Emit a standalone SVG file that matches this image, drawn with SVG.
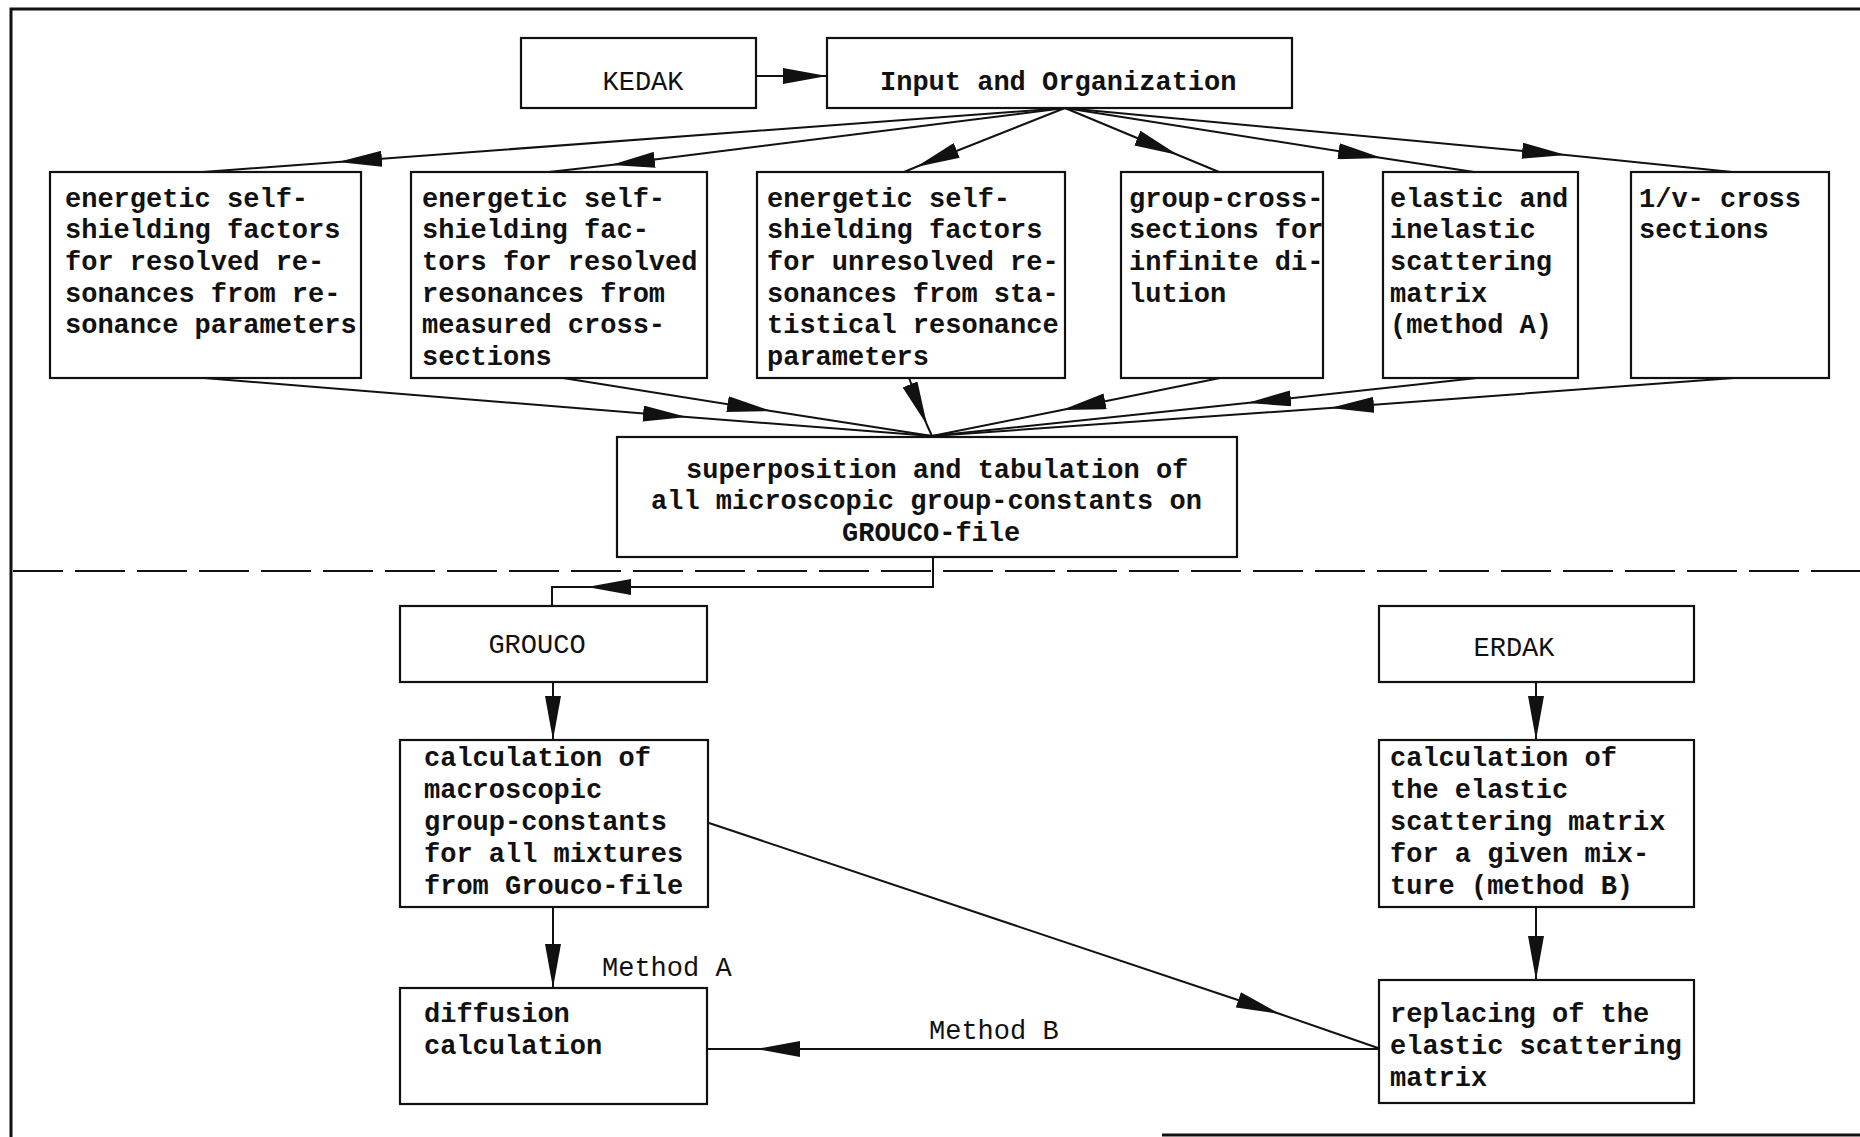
<svg xmlns="http://www.w3.org/2000/svg" width="1860" height="1137" viewBox="0 0 1860 1137">
<defs>
<marker id="ah" viewBox="0 0 44 16" refX="44" refY="8" markerWidth="44" markerHeight="16" markerUnits="userSpaceOnUse" orient="auto">
<path d="M0,0 L44,8 L0,16 Z" fill="#111"/>
</marker>
<style>
.box{fill:none;stroke:#111;stroke-width:2.2}
.t{font-family:"Liberation Mono","DejaVu Sans Mono",monospace;font-size:27px;font-weight:bold;fill:#111}
.n{font-family:"Liberation Mono","DejaVu Sans Mono",monospace;font-size:27px;font-weight:normal;fill:#111}
.c{fill:none;stroke:#111;stroke-width:2}
.mid{marker-mid:url(#ah)}
.end{marker-end:url(#ah)}
</style>
</defs>
<rect width="1860" height="1137" fill="#fff"/>
<g id="frame" fill="none" stroke="#111">
<path d="M11,1137 V9 H1860" stroke-width="3"/>
<path d="M1162,1135 H1860" stroke-width="3"/>
<path d="M13,571 H1860" stroke-width="2" stroke-dasharray="50 12"/>
</g>
<g id="connectors">
<path class="c end" d="M756,76 H827"/>
<path class="c mid" d="M1065,108 L338,162 L203,172"/>
<path class="c mid" d="M1065,108 L611,165 L549,172"/>
<path class="c mid" d="M1065,108 L916,167 L904,172"/>
<path class="c mid" d="M1065,108 L1178,155 L1219,172"/>
<path class="c mid" d="M1065,108 L1382,158 L1474,172"/>
<path class="c mid" d="M1065,108 L1566,155 L1732,172"/>
<path class="c mid" d="M204,378 L687,417 L932,436"/>
<path class="c mid" d="M563,378 L771,411 L932,436"/>
<path class="c mid" d="M909,378 L927,425 L932,436"/>
<path class="c mid" d="M1220,378 L1062,410 L932,436"/>
<path class="c mid" d="M1477,378 L1247,403 L932,436"/>
<path class="c mid" d="M1734,378 L1330,408 L932,436"/>
<path class="c end" d="M933,557 V587 H587"/>
<path class="c" d="M587,587 H552 V606"/>
<path class="c end" d="M553,682 V740"/>
<path class="c end" d="M553,907 V988"/>
<path class="c end" d="M1536,682 V740"/>
<path class="c end" d="M1536,907 V980"/>
<path class="c mid" d="M709,823 L1280,1014 L1378,1048"/>
<path class="c mid" d="M1378,1049 L756,1049 L707,1049"/>
<text class="n" x="602" y="976">Method A</text>
<text class="n" x="929" y="1039">Method B</text>
</g>
<g id="kedak">
<rect class="box" x="521" y="38" width="235" height="70"/>
<text class="n" x="643" y="90" text-anchor="middle">KEDAK</text>
</g>
<g id="input">
<rect class="box" x="827" y="38" width="465" height="70"/>
<text class="t" x="880" y="90">Input and Organization</text>
</g>
<g id="b1">
<rect class="box" x="50" y="172" width="311" height="206"/>
<text class="t" x="65" y="207">energetic self-</text>
<text class="t" x="65" y="238">shielding factors</text>
<text class="t" x="65" y="270">for resolved re-</text>
<text class="t" x="65" y="302">sonances from re-</text>
<text class="t" x="65" y="333">sonance parameters</text>
</g>
<g id="b2">
<rect class="box" x="411" y="172" width="296" height="206"/>
<text class="t" x="422" y="207">energetic self-</text>
<text class="t" x="422" y="238">shielding fac-</text>
<text class="t" x="422" y="270">tors for resolved</text>
<text class="t" x="422" y="302">resonances from</text>
<text class="t" x="422" y="333">measured cross-</text>
<text class="t" x="422" y="365">sections</text>
</g>
<g id="b3">
<rect class="box" x="757" y="172" width="308" height="206"/>
<text class="t" x="767" y="207">energetic self-</text>
<text class="t" x="767" y="238">shielding factors</text>
<text class="t" x="767" y="270">for unresolved re-</text>
<text class="t" x="767" y="302">sonances from sta-</text>
<text class="t" x="767" y="333">tistical resonance</text>
<text class="t" x="767" y="365">parameters</text>
</g>
<g id="b4">
<rect class="box" x="1121" y="172" width="202" height="206"/>
<text class="t" x="1129" y="207">group-cross-</text>
<text class="t" x="1129" y="238">sections for</text>
<text class="t" x="1129" y="270">infinite di-</text>
<text class="t" x="1129" y="302">lution</text>
</g>
<g id="b5">
<rect class="box" x="1383" y="172" width="195" height="206"/>
<text class="t" x="1390" y="207">elastic and</text>
<text class="t" x="1390" y="238">inelastic</text>
<text class="t" x="1390" y="270">scattering</text>
<text class="t" x="1390" y="302">matrix</text>
<text class="t" x="1390" y="333">(method A)</text>
</g>
<g id="b6">
<rect class="box" x="1631" y="172" width="198" height="206"/>
<text class="t" x="1639" y="207">1/v- cross</text>
<text class="t" x="1639" y="238">sections</text>
</g>
<g id="superposition">
<rect class="box" x="617" y="437" width="620" height="120"/>
<text class="t" x="686" y="478">superposition and tabulation of</text>
<text class="t" x="651" y="509">all microscopic group-constants on</text>
<text class="t" x="842" y="541">GROUCO-file</text>
</g>
<g id="grouco">
<rect class="box" x="400" y="606" width="307" height="76"/>
<text class="n" x="537" y="653" text-anchor="middle">GROUCO</text>
</g>
<g id="calc-macro">
<rect class="box" x="400" y="740" width="308" height="167"/>
<text class="t" x="424" y="766">calculation of</text>
<text class="t" x="424" y="798">macroscopic</text>
<text class="t" x="424" y="830">group-constants</text>
<text class="t" x="424" y="862">for all mixtures</text>
<text class="t" x="424" y="894">from Grouco-file</text>
</g>
<g id="diffusion">
<rect class="box" x="400" y="988" width="307" height="116"/>
<text class="t" x="424" y="1022">diffusion</text>
<text class="t" x="424" y="1054">calculation</text>
</g>
<g id="erdak">
<rect class="box" x="1379" y="606" width="315" height="76"/>
<text class="n" x="1514" y="656" text-anchor="middle">ERDAK</text>
</g>
<g id="calc-elastic">
<rect class="box" x="1379" y="740" width="315" height="167"/>
<text class="t" x="1390" y="766">calculation of</text>
<text class="t" x="1390" y="798">the elastic</text>
<text class="t" x="1390" y="830">scattering matrix</text>
<text class="t" x="1390" y="862">for a given mix-</text>
<text class="t" x="1390" y="894">ture (method B)</text>
</g>
<g id="replacing">
<rect class="box" x="1379" y="980" width="315" height="123"/>
<text class="t" x="1390" y="1022">replacing of the</text>
<text class="t" x="1390" y="1054">elastic scattering</text>
<text class="t" x="1390" y="1086">matrix</text>
</g>
</svg>
